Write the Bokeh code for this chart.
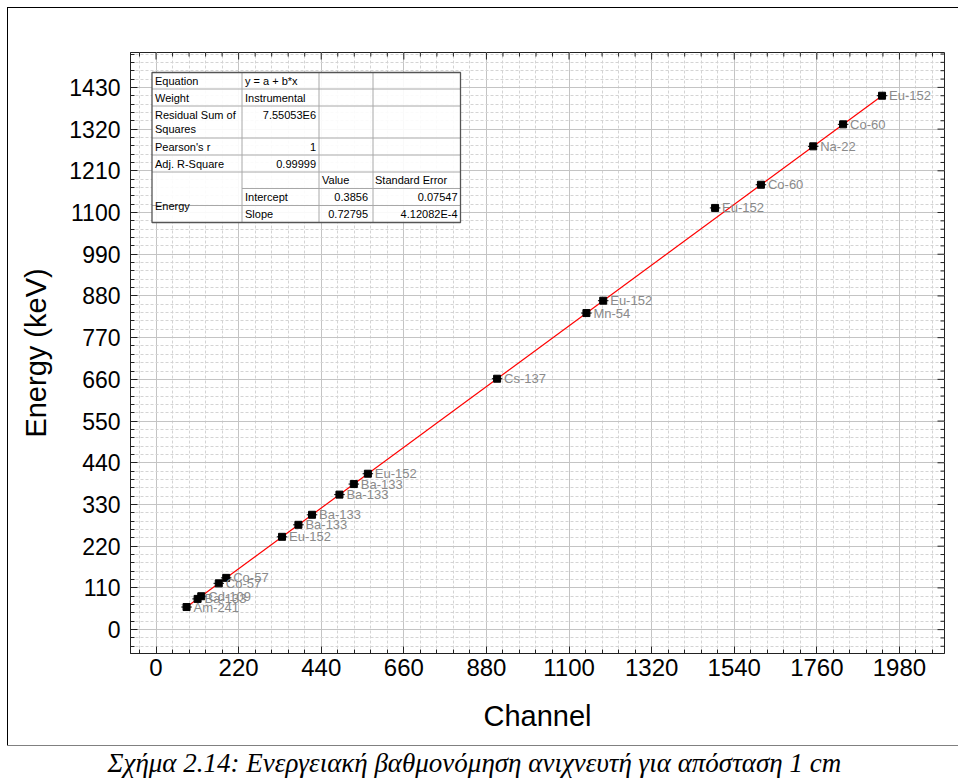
import math
from bokeh.plotting import figure
from bokeh.layouts import column, row
from bokeh.models import SingleIntervalTicker, Range1d, ColumnDataSource
from bokeh.core.properties import value
from bokeh.embed import file_html
from bokeh.resources import INLINE

# Calibration sources: gamma line (keV) and peak channel
sources = ["Am-241", "Ba-133", "Cd-109", "Co-57", "Co-57", "Eu-152", "Ba-133", "Ba-133",
           "Ba-133", "Ba-133", "Eu-152", "Cs-137", "Mn-54", "Eu-152", "Eu-152", "Co-60",
           "Na-22", "Co-60", "Eu-152"]
channel = [81.3, 110.7, 120.4, 167.1, 186.9, 335.6, 379.2, 415.5, 488.5, 526.8, 564.2,
           908.4, 1146.3, 1191.0, 1489.0, 1611.1, 1750.3, 1829.9, 1933.7]
energy = [59.54, 81.00, 88.03, 122.06, 136.47, 244.70, 276.40, 302.85, 356.01, 383.85,
          411.12, 661.66, 834.85, 867.38, 1112.08, 1173.23, 1274.54, 1332.49, 1408.01]
channel_err = [14, 14, 14, 14, 14, 14, 14, 14, 14, 14, 14, 14, 14, 14, 14, 14, 14, 14, 14]

# Linear fit results
intercept = 0.3856
slope = 0.72795
intercept_err = "0.07547"
slope_err = "4.12082E-4"

# Fit summary table
stat_names = ["Equation", "Weight", "Residual Sum of\nSquares", "Pearson's r", "Adj. R-Square"]
stat_values = ["y = a + b*x", "Instrumental", "7.55053E6", "1", "0.99999"]
param_header = ["Value", "Standard Error"]
param_names = ["Intercept", "Slope"]
param_values = ["0.3856", "0.72795"]
param_errors = [intercept_err, slope_err]

caption = "Σχήμα 2.14: Ενεργειακή βαθμονόμηση ανιχνευτή για απόσταση 1 cm"

x_major, x_minor_n = 220, 5
y_major, y_minor_n = 110, 5

X0, X1 = -68, 2100
Y0, Y1 = -63, 1522
OX, OY = 8, 8                      # page offset of the framed figure
FL, FR, FT, FB = 130, 944, 52, 653  # plot frame edges on the page
W, H = 958 - OX, 745 - OY

def dx(px):
    return X0 + (px - FL) / (FR - FL) * (X1 - X0)

def dy(py):
    return Y1 - (py - FT) / (FB - FT) * (Y1 - Y0)

FONT = "Liberation Sans"
INK = "#222222"

p = figure(width=W, height=H, x_range=Range1d(X0, X1), y_range=Range1d(Y0, Y1),
           output_backend="svg", toolbar_location=None, title=None,
           min_border_left=FL - OX, min_border_right=OX + W - FR,
           min_border_top=FT - OY, min_border_bottom=OY + H - FB,
           x_axis_label="Channel", y_axis_label="Energy (keV)")
p.margin = (OY, 0, 0, OX)
p.styles = {"outline": "1px solid black"}
p.background_fill_color = "white"
p.border_fill_color = "white"
p.outline_line_color = INK

xt = SingleIntervalTicker(interval=x_major, num_minor_ticks=x_minor_n)
yt = SingleIntervalTicker(interval=y_major, num_minor_ticks=y_minor_n)
p.xaxis.ticker = xt
p.yaxis.ticker = yt
p.xgrid.ticker = xt
p.ygrid.ticker = yt
for ax in (p.xaxis[0], p.yaxis[0]):
    ax.major_tick_in = 7
    ax.major_tick_out = 0
    ax.minor_tick_in = 4
    ax.minor_tick_out = 0
    ax.axis_line_color = INK
    ax.major_tick_line_color = INK
    ax.minor_tick_line_color = INK
    ax.major_label_text_font = FONT
    ax.major_label_text_color = "black"
    ax.axis_label_text_font = FONT
    ax.axis_label_text_font_style = "normal"
    ax.axis_label_text_font_size = "29px"
    ax.axis_label_text_color = "black"
p.xaxis.major_label_text_font_size = "24px"
p.yaxis.major_label_text_font_size = "23px"
p.xaxis.major_label_standoff = 5
p.yaxis.major_label_standoff = 10
p.xaxis.axis_label_standoff = 21
p.yaxis.axis_label_standoff = 14

for g in (p.xgrid[0], p.ygrid[0]):
    g.grid_line_color = "#c4c4c4"
    g.grid_line_width = 1
    g.minor_grid_line_color = "#d4d4d4"
    g.minor_grid_line_dash = "3 2"
    g.minor_grid_line_width = 1

# Inward ticks mirrored on the top and right edges of the frame
x_step = x_major / x_minor_n
y_step = y_major / y_minor_n
xs_all = [k * x_step for k in range(math.ceil(X0 / x_step), math.floor(X1 / x_step) + 1)]
ys_all = [k * y_step for k in range(math.ceil(Y0 / y_step), math.floor(Y1 / y_step) + 1)]
for xs_, length in ((
        [v for v in xs_all if round(v) % x_major == 0], 7),
        ([v for v in xs_all if round(v) % x_major != 0], 4)):
    p.ray(x=xs_, y=[Y1] * len(xs_), length=length, length_units="screen",
          angle=-math.pi / 2, line_color=INK, line_width=1)
for ys_, length in ((
        [v for v in ys_all if round(v) % y_major == 0], 7),
        ([v for v in ys_all if round(v) % y_major != 0], 4)):
    p.ray(x=[X1] * len(ys_), y=ys_, length=length, length_units="screen",
          angle=math.pi, line_color=INK, line_width=1)

# Fit line over the channel span of the data
x_fit = [min(channel), max(channel)]
y_fit = [intercept + slope * x for x in x_fit]
p.line(x_fit, y_fit, line_color="red", line_width=1.2)

src = ColumnDataSource(dict(
    ch=channel, e=energy, name=sources,
    lo=[c - e for c, e in zip(channel, channel_err)],
    hi=[c + e for c, e in zip(channel, channel_err)],
))
p.segment(x0="lo", y0="e", x1="hi", y1="e", source=src, line_color="black", line_width=1)
p.scatter(x="ch", y="e", source=src, marker="square", size=7, color="black")
p.text(x="ch", y="e", text="name", source=src, x_offset=7, text_baseline="middle",
       text_font=value(FONT), text_font_size="13px", text_color="#8a8a8a")

# Fit summary table
cols = [151.5, 241.5, 318.5, 372.5, 460]
rows = [72, 88.5, 105.5, 137.5, 154.5, 171.5, 188, 205, 222]
p.quad(left=[dx(cols[0])], right=[dx(cols[-1])], top=[dy(rows[0])], bottom=[dy(rows[-1])],
       fill_color="white", fill_alpha=0.9, line_color=None)
seg_x0, seg_y0, seg_x1, seg_y1 = [], [], [], []
for r in rows[1:-1]:
    start = cols[1] if r == rows[6] else cols[0]
    seg_x0.append(dx(start)); seg_x1.append(dx(cols[-1]))
    seg_y0.append(dy(r)); seg_y1.append(dy(r))
for c in cols[1:-1]:
    seg_x0.append(dx(c)); seg_x1.append(dx(c))
    seg_y0.append(dy(rows[0])); seg_y1.append(dy(rows[-1]))
p.segment(seg_x0, seg_y0, seg_x1, seg_y1, line_color="#a8a8a8", line_width=1)
p.quad(left=[dx(cols[0])], right=[dx(cols[-1])], top=[dy(rows[0])], bottom=[dy(rows[-1])],
       fill_color=None, line_color="#555555", line_width=1.3)

tx, ty, tt, ta = [], [], [], []
def cell(text, px, py, align="left"):
    tx.append(dx(px)); ty.append(dy(py)); tt.append(text); ta.append(align)

for i, name in enumerate(stat_names):
    top, bot = rows[i], rows[i + 1]
    lines = name.split("\n")
    if len(lines) == 2:
        cell(lines[0], cols[0] + 3, top + 9)
        cell(lines[1], cols[0] + 3, top + 23)
    else:
        cell(name, cols[0] + 3, (top + bot) / 2)
for i, v in enumerate(stat_values):
    top, bot = rows[i], rows[i + 1]
    yc = top + 9 if i == 2 else (top + bot) / 2
    if i < 2:
        cell(v, cols[1] + 3, yc)
    else:
        cell(v, cols[2] - 3, yc, "right")
cell(param_header[0], cols[2] + 3, (rows[5] + rows[6]) / 2)
cell(param_header[1], cols[3] + 2, (rows[5] + rows[6]) / 2)
cell("Energy", cols[0] + 3, (rows[6] + rows[8]) / 2)
for j in range(2):
    yc = (rows[6 + j] + rows[7 + j]) / 2
    cell(param_names[j], cols[1] + 3, yc)
    cell(param_values[j], cols[3] - 5, yc, "right")
    cell(param_errors[j], cols[4] - 3, yc, "right")
p.text(x=tx, y=ty, text=tt, text_align=ta, text_baseline="middle",
       text_font=value(FONT), text_font_size="11px", text_color="black")

# Caption strip under the framed chart (range in page pixels)
cap_h = 780 - OY - H
cap = figure(width=958, height=cap_h, x_range=Range1d(0, 958), y_range=Range1d(0, cap_h),
             x_axis_type=None, y_axis_type=None,
             output_backend="svg", toolbar_location=None, title=None, min_border=0)
cap.grid.visible = False
cap.outline_line_color = None
cap.background_fill_color = "white"
cap.border_fill_color = "white"
cap.text(x=[107], y=[cap_h - (762 - OY - H)], text=[caption], text_align="left",
         text_baseline="middle",
         text_font=value("Liberation Serif"), text_font_style="italic",
         text_font_size="27px", text_color="black")

# The caption sits in its own row so its frame is not aligned with the chart's frame
page = column(p, row(cap, spacing=0), spacing=0)
open("out.html", "w").write(file_html(page, INLINE))
